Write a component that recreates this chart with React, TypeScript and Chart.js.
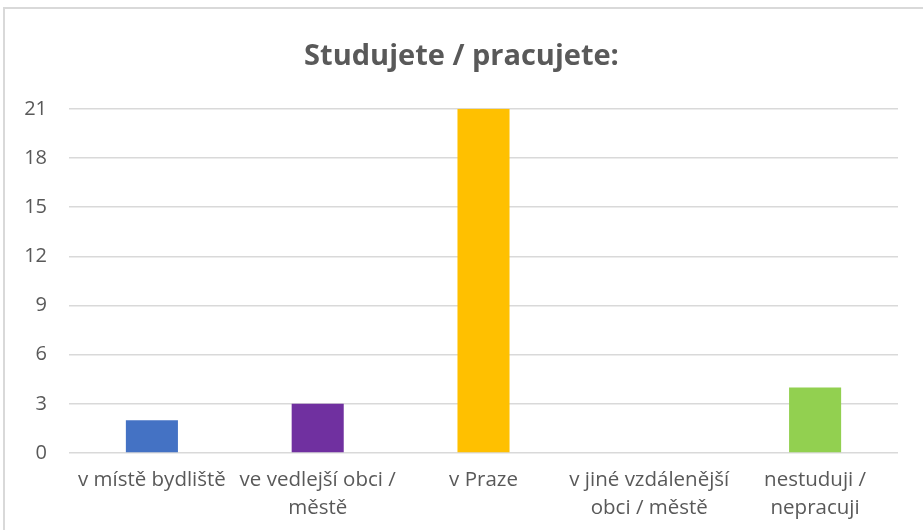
import React, { useEffect, useRef } from "react";
import { Chart, registerables } from "chart.js";

Chart.register(...registerables);

const categories: (string | string[])[] = [
  "v místě bydliště",
  ["ve vedlejší obci /", "městě"],
  "v Praze",
  ["v jiné vzdálenější", "obci / městě"],
  ["nestuduji /", "nepracuji"],
];
const values = [2, 3, 21, 0, 4];
const barColors = ["#4472C4", "#7030A0", "#FFC000", "#A5A5A5", "#92D050"];
const titleText = "Studujete / pracujete:";
const yMax = 21;
const yStep = 3;

export default function App() {
  const ref = useRef<HTMLCanvasElement | null>(null);
  useEffect(() => {
    if (!ref.current) return;
    const chart = new Chart(ref.current, {
      type: "bar",
      data: {
        labels: categories,
        datasets: [
          {
            data: values,
            backgroundColor: barColors,
            borderWidth: 0,
            categoryPercentage: 1,
            barPercentage: 0.314,
          },
        ],
      },
      options: {
        animation: false,
        responsive: false,
        maintainAspectRatio: false,
        layout: { padding: { left: 0, right: 0, top: 0, bottom: 0 } },
        plugins: {
          legend: { display: false },
          tooltip: { enabled: false },
          title: {
            display: true,
            text: titleText,
            color: "#595959",
            font: { family: "'Open Sans', sans-serif", size: 29, weight: "bold", lineHeight: 1.2 },
            padding: { top: 39, bottom: 35 },
          },
        },
        scales: {
          x: {
            grid: { display: false, drawTicks: false },
            border: { display: false },
            ticks: {
              color: "#595959",
              font: { family: "'Open Sans', sans-serif", size: 20.5, lineHeight: 1.37 },
              padding: 13,
              maxRotation: 0,
              autoSkip: false,
            },
            afterFit: (s: any) => {
              s.height = 77;
            },
          },
          y: {
            min: 0,
            max: yMax,
            grid: { color: "#d9d9d9", lineWidth: 1.5, drawTicks: false },
            border: { display: false },
            ticks: {
              stepSize: yStep,
              color: "#595959",
              font: { family: "'Open Sans', sans-serif", size: 20 },
              padding: 22,
            },
            afterFit: (s: any) => {
              s.width = 69;
            },
          },
          yR: {
            position: "right",
            grid: { display: false, drawTicks: false },
            border: { display: false },
            ticks: { display: false },
            afterFit: (s: any) => {
              s.width = 25;
            },
          },
        },
      },
    });
    return () => chart.destroy();
  }, []);

  return (
    <div
      style={{
        position: "fixed",
        left: 0,
        top: 0,
        width: 923,
        height: 530,
        overflow: "hidden",
        background: "#fff",
      }}
    >
      <div
        style={{
          position: "absolute",
          left: 3,
          top: 7,
          width: 960,
          height: 560,
          border: "2px solid #d9d9d9",
          boxSizing: "border-box",
        }}
      />
      <canvas
        ref={ref}
        width={923}
        height={530}
        style={{ position: "absolute", left: 0, top: 0, width: 923, height: 530 }}
      />
    </div>
  );
}
